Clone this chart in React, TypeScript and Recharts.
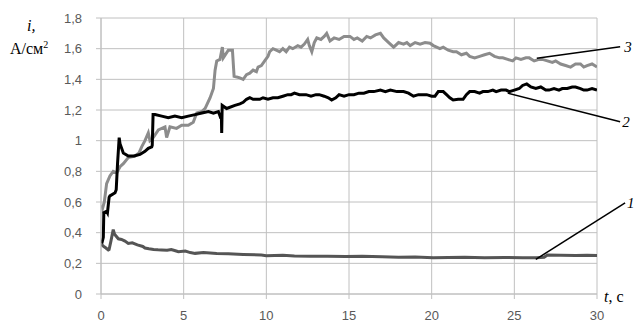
import { LineChart, Line, XAxis, YAxis, CartesianGrid, ReferenceLine, ReferenceDot } from "recharts"

// curve 1
const t1 = [0.02, 0.06, 0.17, 0.3, 0.44, 0.49, 0.6, 0.74, 0.82, 1.05, 1.24, 1.45, 1.65, 1.89, 2.2, 2.53, 2.66, 2.9, 3.18, 3.45, 3.67, 4.0, 4.25, 4.5, 4.68, 5.1, 5.4, 5.69, 6.2, 7.0, 7.7, 8.6, 9.7, 10.0, 11.0, 11.7, 12.7, 13.7, 14.8, 15.8, 17.0, 18.0, 19.0, 20.1, 21.0, 22.0, 23.2, 24.4, 25.5, 26.35, 26.8, 27.0, 27.8, 28.7, 29.4, 30]
const i1 = [0.33, 0.32, 0.31, 0.3, 0.287, 0.29, 0.345, 0.42, 0.39, 0.36, 0.356, 0.345, 0.33, 0.334, 0.32, 0.31, 0.3, 0.295, 0.29, 0.288, 0.287, 0.285, 0.29, 0.282, 0.276, 0.28, 0.27, 0.265, 0.27, 0.264, 0.262, 0.258, 0.254, 0.25, 0.252, 0.248, 0.246, 0.247, 0.245, 0.247, 0.243, 0.24, 0.242, 0.236, 0.238, 0.24, 0.237, 0.238, 0.237, 0.236, 0.24, 0.255, 0.253, 0.251, 0.252, 0.251]

// curve 2
const t2 = [0.05, 0.14, 0.17, 0.34, 0.39, 0.49, 0.54, 0.85, 0.92, 1.0, 1.1, 1.15, 1.35, 1.65, 2.0, 2.36, 2.66, 2.86, 3.07, 3.1, 3.15, 3.27, 3.67, 4.07, 4.47, 4.88, 5.28, 5.69, 6.1, 6.5, 6.8, 7.1, 7.2, 7.28, 7.3, 7.33, 7.6, 8.1, 8.4, 8.6, 8.8, 9.0, 9.2, 9.4, 9.6, 9.8, 10.1, 10.4, 10.7, 11.0, 11.3, 11.5, 11.7, 12.0, 12.4, 12.7, 13.0, 13.2, 13.5, 13.75, 13.95, 14.2, 14.4, 14.7, 15.0, 15.3, 15.6, 15.9, 16.2, 16.5, 16.9, 17.2, 17.5, 17.9, 18.3, 18.6, 18.9, 19.2, 19.5, 19.7, 20.0, 20.2, 20.4, 20.7, 20.9, 21.1, 21.3, 21.6, 21.9, 22.1, 22.3, 22.6, 22.9, 23.1, 23.4, 23.7, 23.9, 24.2, 24.5, 24.7, 25.0, 25.3, 25.5, 25.75, 26.0, 26.3, 26.6, 26.9, 27.1, 27.4, 27.7, 27.9, 28.2, 28.5, 28.7, 29.0, 29.2, 29.4, 29.7, 30]
const i2 = [0.33, 0.37, 0.53, 0.54, 0.53, 0.63, 0.64, 0.66, 0.68, 0.85, 1.02, 0.98, 0.92, 0.9, 0.9, 0.91, 0.93, 0.95, 0.96, 0.97, 1.17, 1.17, 1.16, 1.15, 1.16, 1.15, 1.16, 1.17, 1.18, 1.19, 1.18, 1.19, 1.16, 1.17, 1.05, 1.23, 1.21, 1.23, 1.24, 1.25, 1.27, 1.28, 1.27, 1.27, 1.27, 1.28, 1.27, 1.28, 1.28, 1.29, 1.3, 1.3, 1.31, 1.3, 1.3, 1.29, 1.3, 1.3, 1.29, 1.28, 1.265, 1.28, 1.3, 1.29, 1.3, 1.3, 1.31, 1.31, 1.32, 1.32, 1.33, 1.32, 1.33, 1.32, 1.32, 1.31, 1.29, 1.3, 1.3, 1.3, 1.29, 1.29, 1.32, 1.32, 1.3, 1.28, 1.265, 1.27, 1.27, 1.3, 1.32, 1.32, 1.31, 1.32, 1.32, 1.33, 1.32, 1.33, 1.33, 1.32, 1.33, 1.34, 1.36, 1.37, 1.35, 1.34, 1.35, 1.33, 1.33, 1.34, 1.33, 1.34, 1.34, 1.35, 1.35, 1.34, 1.33, 1.33, 1.34, 1.33]

// curve 3
const t3 = [0.05, 0.1, 0.2, 0.34, 0.54, 0.74, 0.95, 1.15, 1.35, 1.65, 2.05, 2.3, 2.46, 2.66, 2.86, 2.96, 3.16, 3.47, 3.87, 3.97, 4.17, 4.57, 4.88, 5.28, 5.58, 5.79, 6.1, 6.3, 6.6, 6.8, 6.9, 7.0, 7.2, 7.34, 7.4, 7.7, 7.95, 8.05, 8.4, 8.6, 8.8, 9.0, 9.2, 9.4, 9.5, 9.7, 9.9, 10.1, 10.2, 10.4, 10.6, 10.8, 11.0, 11.2, 11.4, 11.6, 11.9, 12.1, 12.3, 12.5, 12.6, 12.75, 12.9, 13.05, 13.3, 13.5, 13.65, 13.85, 14.1, 14.4, 14.7, 15.06, 15.3, 15.5, 15.8, 16.07, 16.3, 16.6, 16.9, 17.1, 17.4, 17.7, 18.0, 18.3, 18.5, 18.7, 19.0, 19.3, 19.6, 19.9, 20.1, 20.3, 20.5, 20.7, 21.0, 21.3, 21.5, 21.8, 22.1, 22.3, 22.6, 22.9, 23.2, 23.5, 23.8, 24.1, 24.3, 24.6, 24.9, 25.1, 25.4, 25.7, 25.9, 26.2, 26.5, 26.7, 27.0, 27.3, 27.5, 27.8, 28.1, 28.4, 28.7, 29.0, 29.2, 29.4, 29.7, 30]
const i3 = [0.58, 0.56, 0.6, 0.72, 0.77, 0.8, 0.79, 0.83, 0.85, 0.89, 0.9, 0.92, 0.96, 1.0, 1.05, 1.0, 1.02, 1.07, 1.09, 1.02, 1.09, 1.08, 1.1, 1.1, 1.12, 1.18, 1.19, 1.21, 1.28, 1.34, 1.46, 1.52, 1.53, 1.61, 1.54, 1.59, 1.59, 1.42, 1.41, 1.4, 1.43, 1.44, 1.46, 1.45, 1.48, 1.49, 1.52, 1.55, 1.58, 1.6, 1.59, 1.58, 1.6, 1.58, 1.61, 1.6, 1.62, 1.61, 1.63, 1.66, 1.62, 1.58, 1.64, 1.67, 1.66, 1.68, 1.7, 1.65, 1.67, 1.66, 1.68, 1.68, 1.66, 1.67, 1.65, 1.68, 1.67, 1.69, 1.7, 1.67, 1.64, 1.61, 1.64, 1.63, 1.64, 1.62, 1.64, 1.63, 1.64, 1.635, 1.62, 1.61, 1.6, 1.61, 1.59, 1.58, 1.58, 1.56, 1.57, 1.55, 1.54, 1.55, 1.56, 1.57, 1.55, 1.54, 1.54, 1.53, 1.52, 1.54, 1.53, 1.54, 1.54, 1.52, 1.53, 1.53, 1.52, 1.51, 1.52, 1.5, 1.49, 1.48, 1.5, 1.5, 1.48, 1.49, 1.5, 1.48]

const xTicks = [0, 5, 10, 15, 20, 25, 30]
const yTicks = [0, 0.2, 0.4, 0.6, 0.8, 1, 1.2, 1.4, 1.6, 1.8]

const toPoints = (t: number[], v: number[]) => t.map((x, k) => ({ t: x, i: v[k] }))

const curve1 = toPoints(t1, i1)
const curve2 = toPoints(t2, i2)
const curve3 = toPoints(t3, i3)

const fmt = (v: number) => String(Number(v.toFixed(1))).replace(".", ",")

const tickStyle = { fill: "#595959", fontSize: 13, fontFamily: "Liberation Sans, Arial, sans-serif" }
const serif = "Liberation Serif, Times New Roman, serif"
const numLabel = { fill: "#000", fontSize: 15, fontStyle: "italic", fontFamily: serif }

export default function App() {
  return (
    <div style={{ position: "fixed", left: 0, top: 0, width: 635, height: 327, background: "#fff" }}>
      <LineChart width={635} height={327} data={curve2} margin={{ top: 18, right: 38, left: 0, bottom: 0 }}>
        <CartesianGrid stroke="#c0c0c0" strokeWidth={1} />
        <XAxis
          type="number"
          dataKey="t"
          domain={[0, 30]}
          ticks={xTicks}
          height={33}
          tickSize={5}
          tickMargin={12}
          stroke="#c0c0c0"
          tick={tickStyle}
          allowDataOverflow
        />
        <YAxis
          type="number"
          domain={[0, 1.8]}
          ticks={yTicks}
          width={101}
          tickSize={5}
          tickMargin={14}
          stroke="#c0c0c0"
          tick={tickStyle}
          tickFormatter={fmt}
          allowDataOverflow
        />
        <Line data={curve1} dataKey="i" type="linear" stroke="#555555" strokeWidth={3} dot={false} isAnimationActive={false} />
        <Line data={curve3} dataKey="i" type="linear" stroke="#8c8c8c" strokeWidth={3} dot={false} isAnimationActive={false} />
        <Line data={curve2} dataKey="i" type="linear" stroke="#000000" strokeWidth={3} dot={false} isAnimationActive={false} />
        <ReferenceLine segment={[{ x: 26.36, y: 1.537 }, { x: 31.4, y: 1.613 }]} stroke="#000" strokeWidth={1.5} ifOverflow="visible" />
        <ReferenceLine segment={[{ x: 24.6, y: 1.31 }, { x: 31.4, y: 1.124 }]} stroke="#000" strokeWidth={1.5} ifOverflow="visible" />
        <ReferenceLine segment={[{ x: 26.3, y: 0.226 }, { x: 31.7, y: 0.594 }]} stroke="#000" strokeWidth={1.5} ifOverflow="visible" />
        <ReferenceDot x={31.4} y={1.613} r={0} fill="none" stroke="none" ifOverflow="visible" label={{ value: "3", position: "right", offset: 4, style: numLabel }} />
        <ReferenceDot x={31.4} y={1.124} r={0} fill="none" stroke="none" ifOverflow="visible" label={{ value: "2", position: "right", offset: 2, style: numLabel }} />
        <ReferenceDot x={31.7} y={0.594} r={0} fill="none" stroke="none" ifOverflow="visible" label={{ value: "1", position: "right", offset: 2, style: numLabel }} />
      </LineChart>
      <div style={{ position: "absolute", left: 27, top: 18, fontFamily: serif, fontSize: 16, fontStyle: "italic", color: "#000", lineHeight: 1 }}>i,</div>
      <div style={{ position: "absolute", left: 10, top: 40, fontFamily: serif, fontSize: 16, color: "#000", lineHeight: 1, whiteSpace: "nowrap" }}>
        А/см<sup style={{ fontSize: 10, verticalAlign: "6px" }}>2</sup>
      </div>
      <div style={{ position: "absolute", left: 604, top: 289, fontFamily: serif, fontSize: 16, color: "#000", lineHeight: 1, whiteSpace: "nowrap" }}>
        <i>t</i>, с
      </div>
    </div>
  )
}
